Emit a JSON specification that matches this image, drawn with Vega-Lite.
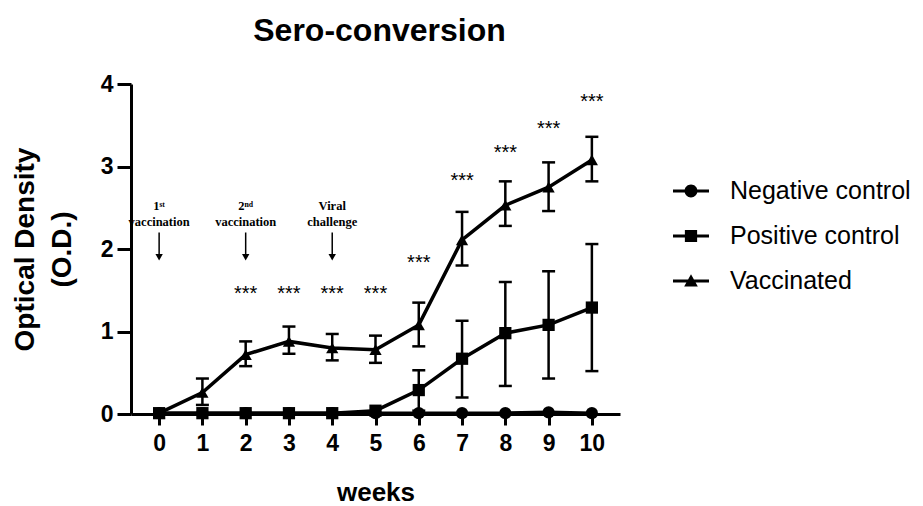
{
  "$schema": "https://vega.github.io/schema/vega-lite/v6.json",
  "width": 489,
  "height": 330,
  "autosize": {"type": "none"},
  "padding": {"left": 131, "top": 84, "right": 303, "bottom": 92},
  "background": "white",
  "config": {
    "view": {"stroke": null},
    "font": "Liberation Sans",
    "axis": {
      "grid": false,
      "domainColor": "black",
      "domainWidth": 3,
      "tickColor": "black",
      "tickWidth": 3,
      "labelColor": "black",
      "labelFont": "Liberation Sans",
      "labelFontWeight": "bold",
      "titleColor": "black",
      "titleFont": "Liberation Sans",
      "titleFontWeight": "bold"
    },
    "text": {"lineBreak": "\n"}
  },
  "title": {
    "text": "Sero-conversion",
    "fontSize": 32,
    "font": "Liberation Sans",
    "fontWeight": "bold",
    "color": "black",
    "anchor": "middle",
    "offset": 25,
    "dx": 4
  },
  "datasets": {
    "series": [
      {"week": 0, "series": "Negative control", "od": 0.01},
      {"week": 1, "series": "Negative control", "od": 0.01},
      {"week": 2, "series": "Negative control", "od": 0.01},
      {"week": 3, "series": "Negative control", "od": 0.01},
      {"week": 4, "series": "Negative control", "od": 0.01},
      {"week": 5, "series": "Negative control", "od": 0.01},
      {"week": 6, "series": "Negative control", "od": 0.01},
      {"week": 7, "series": "Negative control", "od": 0.01},
      {"week": 8, "series": "Negative control", "od": 0.01},
      {"week": 9, "series": "Negative control", "od": 0.02},
      {"week": 10, "series": "Negative control", "od": 0.01},
      {"week": 0, "series": "Positive control", "od": 0.01},
      {"week": 1, "series": "Positive control", "od": 0.01},
      {"week": 2, "series": "Positive control", "od": 0.01},
      {"week": 3, "series": "Positive control", "od": 0.01},
      {"week": 4, "series": "Positive control", "od": 0.01},
      {"week": 5, "series": "Positive control", "od": 0.04},
      {"week": 6, "series": "Positive control", "od": 0.29, "lo": 0.04, "hi": 0.53},
      {"week": 7, "series": "Positive control", "od": 0.67, "lo": 0.2, "hi": 1.13},
      {"week": 8, "series": "Positive control", "od": 0.98, "lo": 0.34, "hi": 1.6},
      {"week": 9, "series": "Positive control", "od": 1.08, "lo": 0.43, "hi": 1.73},
      {"week": 10, "series": "Positive control", "od": 1.29, "lo": 0.52, "hi": 2.06},
      {"week": 0, "series": "Vaccinated", "od": 0.01},
      {"week": 1, "series": "Vaccinated", "od": 0.26, "lo": 0.11, "hi": 0.43},
      {"week": 2, "series": "Vaccinated", "od": 0.72, "lo": 0.58, "hi": 0.88},
      {"week": 3, "series": "Vaccinated", "od": 0.88, "lo": 0.73, "hi": 1.06},
      {"week": 4, "series": "Vaccinated", "od": 0.8, "lo": 0.65, "hi": 0.97},
      {"week": 5, "series": "Vaccinated", "od": 0.78, "lo": 0.62, "hi": 0.95},
      {"week": 6, "series": "Vaccinated", "od": 1.08, "lo": 0.82, "hi": 1.35},
      {"week": 7, "series": "Vaccinated", "od": 2.11, "lo": 1.8, "hi": 2.45},
      {"week": 8, "series": "Vaccinated", "od": 2.53, "lo": 2.28, "hi": 2.82},
      {"week": 9, "series": "Vaccinated", "od": 2.75, "lo": 2.46, "hi": 3.05},
      {"week": 10, "series": "Vaccinated", "od": 3.08, "lo": 2.82, "hi": 3.36}
    ],
    "stars": [
      {"week": 2, "y": 1.52, "label": "***"},
      {"week": 3, "y": 1.52, "label": "***"},
      {"week": 4, "y": 1.52, "label": "***"},
      {"week": 5, "y": 1.52, "label": "***"},
      {"week": 6, "y": 1.89, "label": "***"},
      {"week": 7, "y": 2.88, "label": "***"},
      {"week": 8, "y": 3.23, "label": "***"},
      {"week": 9, "y": 3.52, "label": "***"},
      {"week": 10, "y": 3.84, "label": "***"}
    ],
    "events": [
      {"week": 0, "label": "1ˢᵗ\nvaccination", "top": 2.2, "bottom": 1.93, "head": 1.9},
      {"week": 2, "label": "2ⁿᵈ\nvaccination", "top": 2.2, "bottom": 1.93, "head": 1.9},
      {"week": 4, "label": "Viral\nchallenge", "top": 2.2, "bottom": 1.93, "head": 1.9}
    ]
  },
  "encoding": {
    "x": {
      "field": "week",
      "type": "quantitative",
      "scale": {"domain": [-0.65, 10.65], "nice": false, "zero": false},
      "axis": {
        "title": "weeks",
        "values": [0, 1, 2, 3, 4, 5, 6, 7, 8, 9, 10],
        "format": "d",
        "tickSize": 11,
        "labelPadding": 7,
        "labelFontSize": 23,
        "titleFontSize": 26,
        "titlePadding": 24
      }
    }
  },
  "layer": [
    {
      "data": {"name": "series"},
      "mark": {"type": "line", "color": "black", "strokeWidth": 3.5},
      "encoding": {
        "y": {
          "field": "od",
          "type": "quantitative",
          "scale": {"domain": [0, 4], "nice": false},
          "axis": {
            "title": ["Optical Density", "(O.D.)"],
            "values": [0, 1, 2, 3, 4],
            "format": "d",
            "tickSize": 14,
            "labelPadding": 4,
            "labelFontSize": 23,
            "titleFontSize": 28,
            "titleLineHeight": 37,
            "titlePadding": 24
          }
        },
        "detail": {"field": "series"}
      }
    },
    {
      "data": {"name": "series"},
      "transform": [{"filter": "datum.lo != null"}],
      "mark": {"type": "rule", "color": "black", "strokeWidth": 2.5},
      "encoding": {
        "y": {"field": "lo", "type": "quantitative"},
        "y2": {"field": "hi"}
      }
    },
    {
      "data": {"name": "series"},
      "transform": [{"filter": "datum.lo != null"}],
      "mark": {"type": "tick", "orient": "horizontal", "color": "black", "size": 13, "thickness": 2.5, "opacity": 1},
      "encoding": {
        "y": {"field": "lo", "type": "quantitative"}
      }
    },
    {
      "data": {"name": "series"},
      "transform": [{"filter": "datum.lo != null"}],
      "mark": {"type": "tick", "orient": "horizontal", "color": "black", "size": 13, "thickness": 2.5, "opacity": 1},
      "encoding": {
        "y": {"field": "hi", "type": "quantitative"}
      }
    },
    {
      "data": {"name": "series"},
      "mark": {"type": "point", "filled": true, "color": "black", "opacity": 1, "size": 150},
      "encoding": {
        "y": {"field": "od", "type": "quantitative"},
        "shape": {
          "field": "series",
          "type": "nominal",
          "scale": {"domain": ["Negative control", "Positive control", "Vaccinated"], "range": ["circle", "square", "triangle-up"]},
          "legend": null
        }
      }
    },
    {
      "data": {"name": "series"},
      "mark": {"type": "point", "filled": true, "color": "black", "opacity": 0, "size": 1296},
      "encoding": {
        "y": {"field": "od", "type": "quantitative"},
        "shape": {
          "field": "series",
          "type": "nominal",
          "scale": {
            "domain": ["Negative control", "Positive control", "Vaccinated"],
            "range": [
              "M-1,-0.08H1V0.08H-1Z M0.36,0A0.36,0.36 0 1,1 -0.36,0A0.36,0.36 0 1,1 0.36,0Z",
              "M-1,-0.08H1V0.08H-1Z M-0.34,-0.34H0.34V0.34H-0.34Z",
              "M-1,-0.08H1V0.08H-1Z M0,-0.38L0.38,0.3H-0.38Z"
            ]
          },
          "legend": {
            "title": null,
            "orient": "none",
            "legendX": 542,
            "legendY": 89,
            "padding": 0,
            "symbolSize": 1296,
            "symbolFillColor": "black",
            "symbolStrokeWidth": 0,
            "symbolOpacity": 1,
            "labelFont": "Liberation Sans",
            "labelFontSize": 25,
            "labelColor": "black",
            "labelOffset": 21,
            "rowPadding": 14,
            "labelLimit": 300,
            "encode": {"symbols": {"update": {"opacity": {"value": 1}, "fill": {"value": "black"}}}}
          }
        }
      }
    },
    {
      "data": {"name": "stars"},
      "mark": {"type": "text", "font": "Liberation Sans", "fontSize": 20, "color": "black", "baseline": "alphabetic", "dy": 11},
      "encoding": {
        "y": {"field": "y", "type": "quantitative"},
        "text": {"field": "label"}
      }
    },
    {
      "data": {"name": "events"},
      "mark": {"type": "text", "font": "Liberation Serif", "fontWeight": "bold", "fontSize": 12.5, "lineHeight": 16, "color": "black", "baseline": "bottom", "dy": -20},
      "encoding": {
        "y": {"field": "top", "type": "quantitative"},
        "text": {"field": "label"}
      }
    },
    {
      "data": {"name": "events"},
      "mark": {"type": "rule", "color": "black", "strokeWidth": 1.5},
      "encoding": {
        "y": {"field": "top", "type": "quantitative"},
        "y2": {"field": "bottom"}
      }
    },
    {
      "data": {"name": "events"},
      "mark": {"type": "point", "shape": "triangle-down", "filled": true, "color": "black", "opacity": 1, "size": 55},
      "encoding": {
        "y": {"field": "head", "type": "quantitative"}
      }
    }
  ],
  "resolve": {"scale": {"shape": "independent"}}
}
